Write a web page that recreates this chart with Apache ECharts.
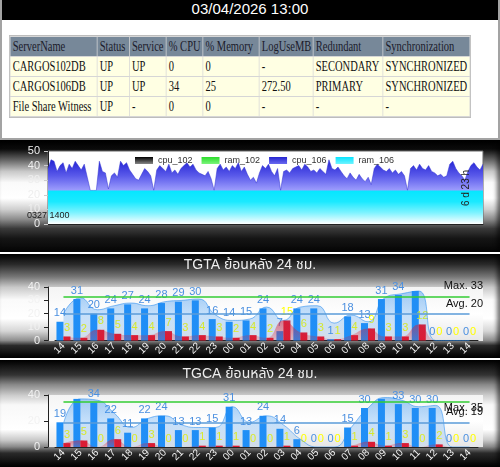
<!DOCTYPE html>
<html>
<head>
<meta charset="utf-8">
<title>DB monitor</title>
<script src="https://cdn.jsdelivr.net/npm/echarts@6/dist/echarts.min.js"></script>
<style>
  html, body { margin: 0; padding: 0; width: 500px; height: 467px; overflow: hidden; background: #fff; }
  #top { position: absolute; left: 0; top: 0; width: 500px; height: 140px; box-sizing: border-box;
         border: 2px solid #a3a3a3; border-top: 0; background: #fff; }
  #clock { height: 20px; background: #000; color: #fff; text-align: center; line-height: 22px;
           font: 15px 'Liberation Sans', Arial, sans-serif; }
  #tblWrap { position: absolute; left: 7px; top: 35px; transform: scaleX(0.75); transform-origin: 0 0; }
  #tblWrap table { width: 616px; border-collapse: separate; border-spacing: 1px; background: #d6d6d6; border: 1px solid #bdbdbd;
                   table-layout: fixed; font: 14px 'Liberation Serif', 'Times New Roman', serif; }
  #tblWrap th, #tblWrap td { height: 19px; padding: 0 3px; white-space: nowrap;
                             text-align: left; font-weight: normal; overflow: hidden; }
  #tblWrap th { background: #778899; color: #1b1b2b; }
  #tblWrap td { background: #ffffe3; color: #111; }
  .panel { position: absolute; left: 0; width: 500px; box-shadow: inset -3px 0 4px rgba(0,0,0,0.55); }
  #p1 { top: 140px; height: 112px;
        background: linear-gradient(to bottom, #000 0%, #0a0a0a 8%, #666 18%, #c8c8c8 28%, #fafafa 38%, #fff 52%,
                    #cfcfcf 62%, #8a8a8a 71%, #3a3a3a 79%, #151515 88%, #050505 100%); }
  #p2 { top: 254px; height: 104px;
        background: linear-gradient(to bottom, #000 0%, #2a2a2a 10%, #777 22%, #c9c9c9 32%, #fafafa 44%, #fff 62%,
                    #d6d6d6 74%, #8f8f8f 83%, #2a2a2a 88%, #000 100%); }
  #p3 { top: 360px; height: 107px;
        background: linear-gradient(to bottom, #000 0%, #333 14%, #888 23%, #ccc 33%, #f8f8f8 42%, #fff 65%,
                    #c8c8c8 75%, #8a8a8a 81%, #2a2a2a 87%, #000 100%); }
</style>
</head>
<body>
<div id="top">
  <div id="clock">03/04/2026 13:00</div>
  <div id="tblWrap">
    <table>
      <colgroup>
        <col style="width:115px"><col style="width:42px"><col style="width:48px"><col style="width:48px">
        <col style="width:74px"><col style="width:71px"><col style="width:92px"><col style="width:115px">
      </colgroup>
      <tr><th>ServerName</th><th>Status</th><th>Service</th><th>% CPU</th><th>% Memory</th><th>LogUseMB</th>
          <th>Redundant</th><th>Synchronization</th></tr>
      <tr><td>CARGOS102DB</td><td>UP</td><td>UP</td><td>0</td><td>0</td><td>-</td><td>SECONDARY</td><td>SYNCHRONIZED</td></tr>
      <tr><td>CARGOS106DB</td><td>UP</td><td>UP</td><td>34</td><td>25</td><td>272.50</td><td>PRIMARY</td><td>SYNCHRONIZED</td></tr>
      <tr><td>File Share Witness</td><td>UP</td><td>-</td><td>0</td><td>0</td><td>-</td><td>-</td><td>-</td></tr>
    </table>
  </div>
</div>
<div id="p1" class="panel"></div>
<div id="p2" class="panel"></div>
<div id="p3" class="panel"></div>
<script>
// ---- cpu / ram (last 7 days, sampled) ----
const cpu106 = [
  38, 44, 43, 36, 40, 42, 35, 41, 38, 43, 40, 37, 41, 32, 23, 23, 23, 43, 36, 35,
  24, 33, 35, 32, 43, 40, 42, 37, 34, 31, 30, 34, 38, 36, 33, 23, 37, 40, 38, 36,
  41, 35, 37, 34, 38, 40, 42, 39, 41, 37, 35, 34, 33, 36, 31, 23, 38, 41, 37, 39,
  36, 40, 38, 42, 36, 39, 34, 30, 32, 28, 35, 40, 38, 41, 36, 33, 38, 23, 36, 37,
  35, 38, 39, 40, 37, 41, 39, 36, 37, 35, 38, 36, 34, 44, 38, 37, 39, 36, 33, 31,
  35, 32, 30, 34, 31, 29, 32, 27, 38, 41, 39, 37, 36, 38, 35, 37, 34, 36, 33, 23,
  38, 40, 37, 41, 38, 37, 40, 36, 35, 33, 34, 32, 33, 41, 43, 38, 35, 33, 30, 36,
  40, 42, 39, 37, 41
]
const ram106 = [
  23, 23, 23, 23, 23, 23, 23, 23, 23, 23, 23, 23, 23, 23, 23, 23, 23, 23, 23, 23,
  23, 23, 23, 23, 23, 23, 23, 23, 23, 23, 23, 23, 23, 23, 23, 23, 23, 23, 23, 23,
  23, 23, 23, 23, 23, 23, 23, 23, 23, 23, 23, 23, 23, 23, 23, 23, 23, 23, 23, 23,
  23, 23, 23, 23, 23, 23, 23, 23, 23, 23, 23, 23, 23, 23, 23, 23, 23, 23, 23, 23,
  23, 23, 23, 23, 23, 23, 23, 23, 23, 23, 23, 23, 23, 23, 23, 23, 23, 23, 23, 23,
  23, 23, 23, 23, 23, 23, 23, 23, 23, 23, 23, 23, 23, 23, 23, 23, 23, 23, 23, 23,
  23, 23, 23, 23, 23, 23, 23, 23, 23, 23, 23, 23, 23, 23, 23, 23, 23, 23, 23, 23,
  23, 23, 23, 23, 23
]
// server 102 is secondary, nothing drawn
const cpu102 = []
const ram102 = []
const startLabel = '0327 1400'
const spanLabel = '6 d 23 h'

// ---- last 24 hours ----
const hours = ['14', '15', '16', '17', '18', '19', '20', '21', '22', '23', '00', '01', '02',
  '03', '04', '05', '06', '07', '08', '09', '10', '11', '12', '13', '14']

const tgtaBlue = [14, 31, 20, 24, 27, 24, 28, 29, 30, 16, 14, 15, 24, 7, 24, 24, 1, 18, 13, 31, 34, 37, 0, 0, 0]
const tgtaRed = [3, 2, 8, 5, 4, 4, 7, 3, 4, 3, 2, 4, 2, 15, 6, 3, 1, 4, 9, 3, 3, 12, 0, 0, 0]
const tgtaBlueArea = [20, 32, 23, 26, 28, 26, 29, 30, 31, 19, 15, 16, 25, 15, 25, 26, 13, 19, 14, 32, 35, 37, 0, 0, 0]
const tgtaRedArea = [3, 2, 8, 5, 4, 4, 7, 3, 4, 3, 2, 4, 2, 15, 6, 3, 1, 4, 9, 3, 3, 12, 0, 0, 0]
const tgtaMax = 33
const tgtaAvg = 20

const tgcaBlue = [19, 37, 34, 22, 11, 22, 24, 13, 13, 15, 31, 13, 24, 14, 6, 0, 0, 15, 30, 37, 33, 30, 30, 0, 0]
const tgcaRed = [3, 5, 0, 6, 0, 3, 0, 0, 1, 1, 1, 0, 0, 1, 0, 0, 0, 1, 4, 1, 3, 0, 2, 0, 0]
const tgcaBlueArea = [18, 37, 36, 26, 15, 22, 24, 17, 15, 15, 31, 19, 24, 17, 6, 0, 0, 15, 30, 38, 36, 31, 32, 0, 0]
const tgcaRedArea = [3, 5, 0, 6, 0, 3, 0, 0, 1, 1, 1, 0, 0, 1, 0, 0, 0, 1, 4, 1, 3, 0, 2, 0, 0]
const tgcaMax = 35
const tgcaAvg = 19

const FONT = "'Liberation Sans', Arial, sans-serif"
const THAI_FONT = "'Liberation Sans', 'Noto Sans Thai', 'Noto Sans', Tahoma, sans-serif"

function grad(stops) {
  return new echarts.graphic.LinearGradient(0, 0, 0, 1, stops.map((c, i) => ({ offset: i / (stops.length - 1), color: c })))
}

// cpu / ram chart
const c1 = echarts.init(document.getElementById('p1'))
c1.setOption({
  animation: false,
  textStyle: { fontFamily: FONT },
  grid: { left: 48, right: 17, top: 11, bottom: 28, show: true, backgroundColor: '#fff', borderColor: '#666', borderWidth: 1 },
  legend: {
    left: 135, top: 16, padding: 0, itemWidth: 18, itemHeight: 7, itemGap: 9, icon: 'rect',
    textStyle: { fontSize: 9, color: '#333' },
    data: [
      { name: 'cpu_102', itemStyle: { color: grad(['#000', '#888']) } },
      { name: 'ram_102', itemStyle: { color: grad(['#2bdc2b', '#7cf57c']) } },
      { name: 'cpu_106', itemStyle: { color: grad(['#2626d0', '#6a6af0']) } },
      { name: 'ram_106', itemStyle: { color: grad(['#08e4ff', '#6ff4ff']) } }
    ]
  },
  xAxis: {
    type: 'category', boundaryGap: false, data: cpu106.map((v, i) => i),
    axisLabel: { show: false }, axisTick: { show: false }, axisLine: { lineStyle: { color: '#222' } }
  },
  yAxis: {
    type: 'value', min: 0, max: 50, interval: 10, splitLine: { show: false },
    axisLine: { show: true, lineStyle: { color: '#222' } },
    axisTick: { show: true, length: 4, lineStyle: { color: '#ccc' } },
    axisLabel: { color: '#eee', fontSize: 11, margin: 8 }
  },
  series: [
    { name: 'cpu_102', type: 'line', data: cpu102, symbol: 'none', lineStyle: { color: '#000' } },
    { name: 'ram_102', type: 'line', data: ram102, symbol: 'none', lineStyle: { color: '#2bdc2b' } },
    {
      name: 'cpu_106', type: 'line', data: cpu106, symbol: 'none', z: 2,
      lineStyle: { width: 0.5, color: '#3030d0' },
      areaStyle: { opacity: 1, color: grad(['#2222d4', '#5a5aea', '#a4a4ff', '#d8d8ff', '#ffffff']) }
    },
    {
      name: 'ram_106', type: 'line', data: ram106, symbol: 'none', z: 3,
      lineStyle: { width: 0 },
      areaStyle: { opacity: 1, color: grad(['#06e6ff', '#1ae9ff', '#7ff3ff', '#ffffff']) }
    }
  ],
  graphic: [
    { type: 'text', z: 100, x: 27, y: 76, style: { text: startLabel, fill: '#1a1a1a', font: '9px ' + FONT, verticalAlign: 'middle', textVerticalAlign: 'middle' } },
    {
      type: 'text', z: 100, x: 466, y: 48, rotation: Math.PI / 2,
      style: { text: spanLabel, fill: '#222', font: '10px ' + FONT, align: 'center', verticalAlign: 'middle', textAlign: 'center', textVerticalAlign: 'middle' }
    }
  ]
})

// 24h charts
function hourChart(id, title, blue, red, blueArea, redArea, maxV, avgV, step, top, bottom, hidden, offs) {
  const el = document.getElementById(id)
  const chart = echarts.init(el)
  const h = el.clientHeight
  chart.setOption({
    animation: false,
    textStyle: { fontFamily: FONT },
    title: {
      text: title, left: 'center', top: top === 33 ? 4 : 7, padding: 0,
      textStyle: { color: '#eeeeee', fontSize: 14, fontWeight: 'normal', fontFamily: THAI_FONT }
    },
    grid: { left: 55, right: 22, top: top, bottom: bottom },
    xAxis: {
      type: 'category', data: hours,
      axisLine: { lineStyle: { color: '#222' } },
      axisTick: { length: 3, lineStyle: { color: '#222' } },
      axisLabel: { rotate: 45, interval: 0, color: '#f2f2f2', fontSize: 10, margin: 4 }
    },
    yAxis: {
      type: 'value', min: 0, max: 40, interval: step, offset: 7, splitLine: { show: false },
      axisLine: { show: true, lineStyle: { color: '#222' } },
      axisTick: { show: true, length: 4, lineStyle: { color: '#222' } },
      axisLabel: { color: '#f2f2f2', fontSize: 11, margin: 8 }
    },
    series: [
      {
        type: 'bar', z: 2, barWidth: 7, barGap: '0%', itemStyle: { color: '#1e8ff8' },
        label: { show: true, position: 'top', distance: 3, color: '#4a8fe0', fontSize: 11 },
        data: blue.map((v, i) => hidden.indexOf(i) >= 0 ? { value: v, label: { show: false } } : v)
      },
      {
        type: 'bar', z: 2, barWidth: 7, barGap: '0%', itemStyle: { color: '#ee1020' },
        label: { show: true, position: 'top', distance: 3, color: '#ffff00', fontSize: 11 },
        data: red
      },
      {
        type: 'line', z: 3, smooth: 0.5, symbol: 'none', data: blueArea,
        lineStyle: { width: 1, color: 'rgba(40,140,240,0.55)' },
        areaStyle: { color: grad(['rgba(40,140,240,0.6)', 'rgba(40,140,240,0.15)']) }
      },
      {
        type: 'line', z: 4, smooth: 0.5, symbol: 'none', data: redArea,
        lineStyle: { width: 0 },
        areaStyle: { color: grad(['rgba(230,20,40,0.75)', 'rgba(230,20,40,0.25)']) },
        markLine: {
          silent: true, symbol: 'none', label: { show: false },
          lineStyle: { type: 'solid', width: 1.5 },
          data: [
            [{ coord: [0, maxV], lineStyle: { color: '#33cc33' } }, { coord: [hours.length - 1, maxV] }],
            [{ coord: [0, avgV], lineStyle: { color: '#5a9bd8' } }, { coord: [hours.length - 1, avgV] }]
          ]
        }
      }
    ]
  })
  const yMax = chart.convertToPixel({ yAxisIndex: 0 }, maxV)
  const yAvg = chart.convertToPixel({ yAxisIndex: 0 }, avgV)
  const txt = (s, y) => ({
    type: 'text', z: 100, x: 483, y: y,
    style: { text: s, fill: '#111', font: '11px ' + FONT, align: 'right', verticalAlign: 'middle', textAlign: 'right', textVerticalAlign: 'middle' }
  })
  chart.setOption({
    graphic: [
      {
        type: 'rect', z: -1, silent: true,
        shape: { x: 48, y: top, width: 435, height: h - top - bottom },
        style: { fill: grad(['#f4f4f4', '#ffffff', '#e6e6e6']) }
      },
      txt('Max. ' + maxV, yMax + offs[0]),
      txt('Avg. ' + avgV, yAvg + offs[1])
    ]
  })
  return chart
}

hourChart('p2', 'TGTA ย้อนหลัง 24 ชม.', tgtaBlue, tgtaRed, tgtaBlueArea, tgtaRedArea, tgtaMax, tgtaAvg, 10, 33, 17, [21], [-10, -10])
hourChart('p3', 'TGCA ย้อนหลัง 24 ชม.', tgcaBlue, tgcaRed, tgcaBlueArea, tgcaRedArea, tgcaMax, tgcaAvg, 20, 35, 20, [1, 19], [6, -10])
</script>
</body>
</html>
